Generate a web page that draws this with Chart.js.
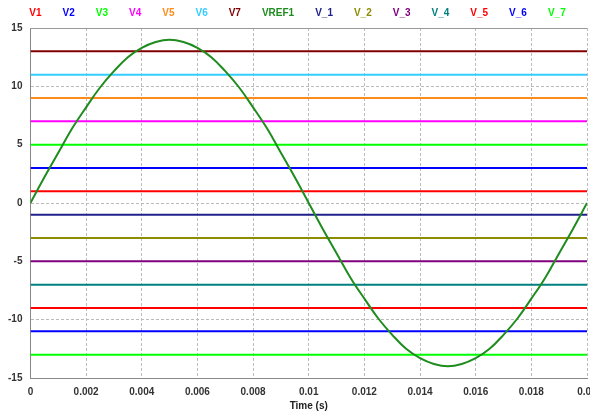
<!DOCTYPE html>
<html>
<head>
<meta charset="utf-8">
<script src="https://cdn.jsdelivr.net/npm/chart.js@4.4.1/dist/chart.umd.min.js"></script>
<style>
  html, body { margin: 0; padding: 0; background: #fff; overflow: hidden; }
  #wrap { width: 590px; height: 412px; }
</style>
</head>
<body>
<div id="wrap"><canvas id="simChart"></canvas></div>
<script>
// Series names and their constant levels
const levelNames = ['V1', 'V2', 'V3', 'V4', 'V5', 'V6', 'V7'];
const levelValues = [1, 3, 5, 7, 9, 11, 13];
const levelColors = ['#ff0000', '#0000ff', '#00ff00', '#ff00ff', '#ff8c1a', '#33ccff', '#800000'];

const negNames = ['V_1', 'V_2', 'V_3', 'V_4', 'V_5', 'V_6', 'V_7'];
const negValues = [-1, -3, -5, -7, -9, -11, -13];
const negColors = ['#20208c', '#8c8c00', '#800080', '#008080', '#ff0000', '#0000ff', '#00ff00'];

// VREF1 sampled from the curve every 0.0005 s
const timeSamples = [
  0, 0.0005, 0.001, 0.0015, 0.002, 0.0025, 0.003, 0.0035, 0.004, 0.0045,
  0.005, 0.0055, 0.006, 0.0065, 0.007, 0.0075, 0.008, 0.0085, 0.009, 0.0095,
  0.01, 0.0105, 0.011, 0.0115, 0.012, 0.0125, 0.013, 0.0135, 0.014, 0.0145,
  0.015, 0.0155, 0.016, 0.0165, 0.017, 0.0175, 0.018, 0.0185, 0.019, 0.0195, 0.02
];
const vref1 = [
  0, 2.2, 4.3, 6.4, 8.2, 9.9, 11.3, 12.5, 13.3, 13.8,
  14, 13.8, 13.3, 12.5, 11.3, 9.9, 8.2, 6.4, 4.3, 2.2,
  0, -2.2, -4.3, -6.4, -8.2, -9.9, -11.3, -12.5, -13.3, -13.8,
  -14, -13.8, -13.3, -12.5, -11.3, -9.9, -8.2, -6.4, -4.3, -2.2, 0
];

const xTicks = [0, 0.002, 0.004, 0.006, 0.008, 0.01, 0.012, 0.014, 0.016, 0.018, 0.02];
const yTicks = [-15, -10, -5, 0, 5, 10, 15];

function flatLine(name, value, color) {
  return {
    label: name,
    data: [{ x: 0, y: value }, { x: 0.02, y: value }],
    borderColor: color,
    backgroundColor: color,
    borderWidth: 2,
    pointRadius: 0,
    order: 1
  };
}

const datasets = [];
levelNames.forEach((n, i) => datasets.push(flatLine(n, levelValues[i], levelColors[i])));
datasets.push({
  label: 'VREF1',
  data: timeSamples.map((t, i) => ({ x: t, y: vref1[i] })),
  borderColor: '#1e8c1e',
  backgroundColor: '#1e8c1e',
  borderWidth: 2,
  pointRadius: 0,
  tension: 0.4,
  order: 0
});
negNames.forEach((n, i) => datasets.push(flatLine(n, negValues[i], negColors[i])));

const fontFamily = "'Liberation Sans', Arial, sans-serif";
const tickFont = { family: fontFamily, size: 10, weight: 'bold' };

// solid grey frame line along the top of the plot
const topEdge = {
  id: 'topEdge',
  afterDraw(chart) {
    const a = chart.chartArea;
    const c = chart.ctx;
    c.save();
    c.strokeStyle = '#999';
    c.lineWidth = 1;
    c.beginPath();
    c.moveTo(a.left, a.top + 0.5);
    c.lineTo(a.right, a.top + 0.5);
    c.stroke();
    c.restore();
  }
};

const ctx = document.getElementById('simChart').getContext('2d');
const simChart = new Chart(ctx, {
  type: 'line',
  data: { datasets: datasets },
  plugins: [topEdge],
  options: {
    responsive: true,
    maintainAspectRatio: false,
    animation: false,
    layout: { padding: { left: 0, right: 0, top: -8, bottom: 0 } },
    plugins: {
      tooltip: { enabled: false },
      legend: {
        display: true,
        position: 'top',
        align: 'center',
        labels: {
          boxWidth: 0,
          boxHeight: 0,
          padding: 16,
          font: { family: fontFamily, size: 10, weight: 'bold' },
          generateLabels: (chart) => chart.data.datasets.map((ds, i) => ({
            text: ds.label,
            fontColor: ds.borderColor,
            fillStyle: 'rgba(0,0,0,0)',
            strokeStyle: 'rgba(0,0,0,0)',
            lineWidth: 0,
            datasetIndex: i
          }))
        }
      }
    },
    scales: {
      x: {
        type: 'linear',
        min: 0,
        max: 0.02,
        afterBuildTicks: (axis) => { axis.ticks = xTicks.map(v => ({ value: v })); },
        // let the plot run to the window edge; the last label is clipped as in the original
        afterFit: (axis) => { axis.paddingRight = 3; },
        ticks: {
          color: '#333',
          font: tickFont,
          maxRotation: 0,
          padding: 8,
          callback: (v) => String(Number(v.toFixed(3)))
        },
        title: {
          display: true,
          text: 'Time (s)',
          color: '#222',
          font: { family: fontFamily, size: 10, weight: 'bold' },
          padding: { top: -6, bottom: 0 }
        },
        grid: {
          color: '#bbbbbb',
          lineWidth: 1,
          drawTicks: false
        },
        border: { display: true, color: '#888', width: 1, dash: [3, 2] }
      },
      y: {
        type: 'linear',
        min: -15,
        max: 15,
        afterBuildTicks: (axis) => { axis.ticks = yTicks.map(v => ({ value: v })); },
        ticks: {
          color: '#333',
          font: tickFont,
          padding: 8
        },
        grid: {
          color: '#bbbbbb',
          lineWidth: 1,
          drawTicks: false
        },
        border: { display: true, color: '#888', width: 1, dash: [3, 2] }
      }
    }
  }
});
</script>
</body>
</html>
